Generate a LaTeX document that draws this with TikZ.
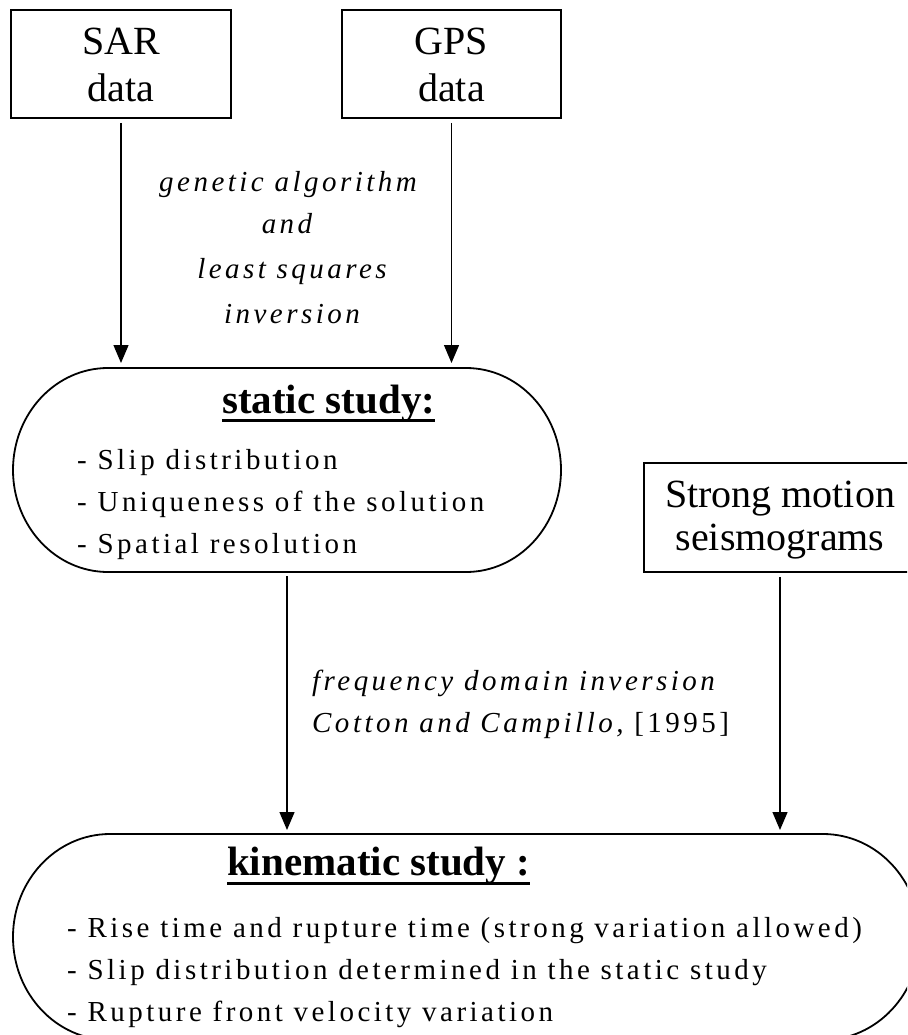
\documentclass[tikz,border=0pt]{standalone}
\usepackage{fontspec}
\setmainfont{Liberation Serif}
\newfontfamily\trackfont[LetterSpace=12]{Liberation Serif}
\usetikzlibrary{arrows.meta,calc}
\begin{document}
\begin{tikzpicture}[x=1pt,y=-1pt,
  shapeline/.style={line width=1.8pt},
  databox/.style={draw, line width=1.8pt, rectangle, inner sep=0pt},
  hidden/.style={inner sep=0pt, outer sep=0pt},
  bigtxt/.style={anchor=base, inner sep=0pt, font=\fontsize{40}{47}\selectfont},
  titletxt/.style={anchor=base west, inner sep=0pt, font=\fontsize{41}{47}\selectfont\bfseries},
  itemtxt/.style={anchor=base west, inner sep=0pt, font=\fontsize{29}{34}\selectfont\trackfont},
  labtxt/.style={inner sep=0pt, font=\fontsize{29}{34}\selectfont\trackfont\itshape},
  arr/.style={line width=1.3pt, -{Triangle[length=18pt,width=15pt]}},
  ulbar/.style={line width=3pt}
]
\path[use as bounding box] (0,0) rectangle (907,1035);
\clip (0,0) rectangle (907,1035);

% data boxes
\node[databox, minimum width=220pt, minimum height=108pt] (sar) at (121,64) {};
\node[databox, minimum width=219pt, minimum height=108pt] (gps) at (451.5,64) {};
\node[databox, minimum width=272pt, minimum height=109pt] (strong) at (780,517.5) {};

\node[bigtxt] (sarA) at (121,55) {SAR};
\node[bigtxt] (sarB) at (121,102) {data};
\node[bigtxt] (gpsA) at (451.5,55) {GPS};
\node[bigtxt] (gpsB) at (451.5,102) {data};
\node[bigtxt] (smA) at (780,507) {Strong motion};
\node[bigtxt] (smB) at (780,550) {seismograms};

% static study
\node[hidden, minimum width=548pt, minimum height=204pt] (static) at (287,470) {};
\draw[shapeline] ($(static.north west)+(95,0)$) -- ($(static.north east)+(-95,0)$)
  arc[start angle=90,end angle=-90,x radius=95pt,y radius=102pt]
  -- ($(static.south west)+(95,0)$)
  arc[start angle=270,end angle=90,x radius=95pt,y radius=102pt] -- cycle;
\node[titletxt] (stt) at (222,413) {static study:};
\draw[ulbar] ($(stt.base west)+(0,7)$) -- ($(stt.base east)+(0,7)$);
\node[itemtxt] (s1) at (77,469) {- Slip distribution};
\node[itemtxt] (s2) at (77,511) {- Uniqueness of the solution};
\node[itemtxt] (s3) at (77,553) {- Spatial resolution};

% kinematic study
\node[hidden, minimum width=907pt, minimum height=206pt] (kin) at (466.5,937) {};
\draw[shapeline] ($(kin.north west)+(97,0)$) -- ($(kin.north east)+(-97,0)$)
  arc[start angle=90,end angle=-90,x radius=97pt,y radius=103pt]
  -- ($(kin.south west)+(97,0)$)
  arc[start angle=270,end angle=90,x radius=97pt,y radius=103pt] -- cycle;
\node[titletxt] (ktt) at (227,875) {kinematic study :};
\draw[ulbar] ($(ktt.base west)+(0,8)$) -- ($(ktt.base east)+(0,8)$);
\node[itemtxt] (k1) at (67,937) {- Rise time and rupture time (strong variation allowed)};
\node[itemtxt] (k2) at (67,979) {- Slip distribution determined in the static study};
\node[itemtxt] (k3) at (67,1021) {- Rupture front velocity variation};

% labels
\node[labtxt, anchor=base] (l1) at (288,192) {genetic algorithm};
\node[labtxt, anchor=base] (l2) at (287,233) {and};
\node[labtxt, anchor=base] (l3) at (292,278) {least squares};
\node[labtxt, anchor=base] (l4) at (292,323) {inversion};
\node[labtxt, anchor=base west] (l5) at (312,690) {frequency domain inversion};
\node[labtxt, anchor=base west] (l6) at (312,732) {Cotton and Campillo,{\upshape\ [1995]}};

% connectors
\draw[arr, shorten <=4pt, shorten >=5pt] (sar.south) -- (sar.south |- static.north);
\draw[arr, shorten <=4pt, shorten >=5pt] (gps.south) -- (gps.south |- static.north);
\draw[arr, shorten <=4pt, shorten >=4pt] (static.south) -- (static.south |- kin.north);
\draw[arr, shorten <=4pt, shorten >=4pt] (strong.south) -- (strong.south |- kin.north);
\end{tikzpicture}
\end{document}
